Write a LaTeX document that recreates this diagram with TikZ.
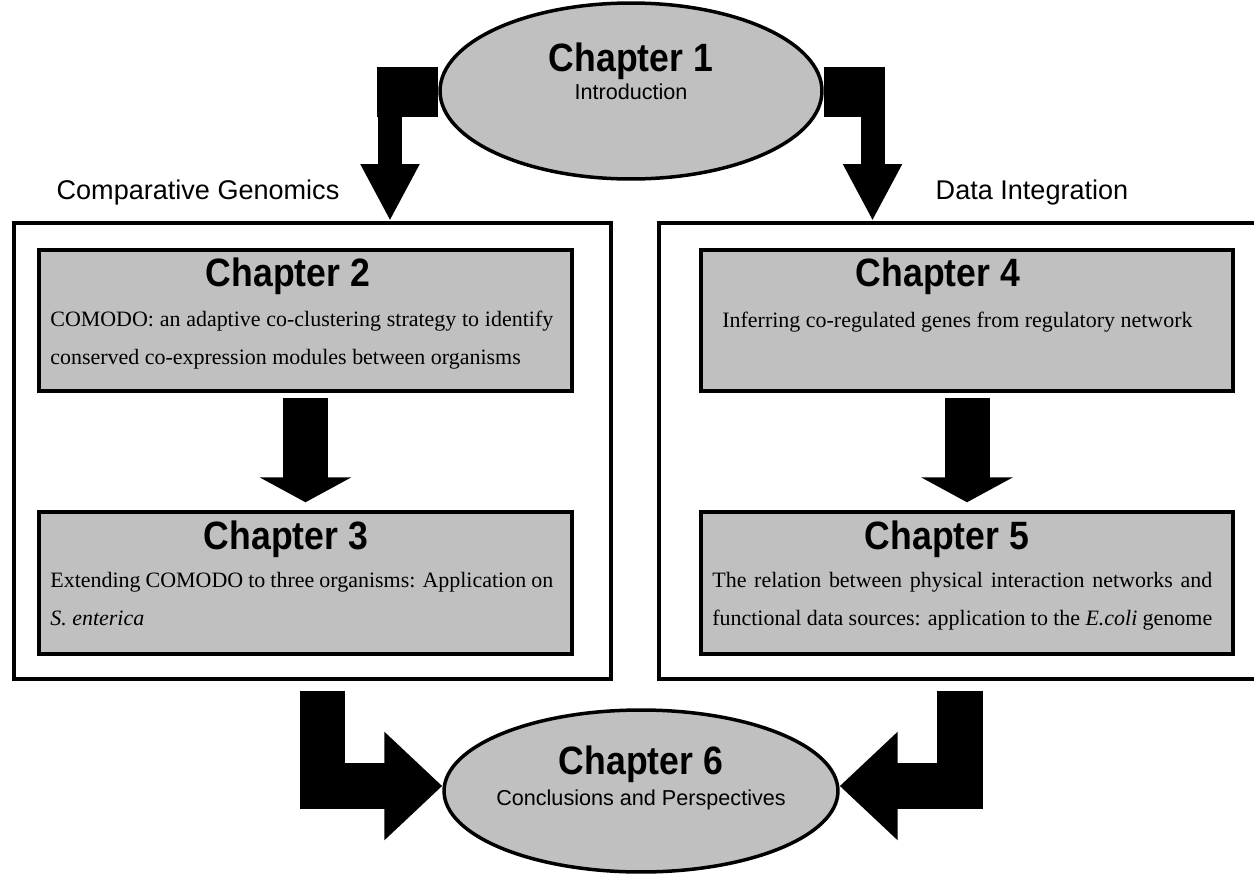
\documentclass[tikz,border=0pt]{standalone}
\usepackage{fontspec}
\setmainfont{Liberation Serif}
\setsansfont{Liberation Sans}
\newfontfamily\narrowsans{Liberation Sans}[FakeStretch=0.9]
\usepackage{tikz}
\usetikzlibrary{arrows.meta,positioning,shapes.geometric,calc}
\definecolor{boxgray}{RGB}{192,192,192}
\newcommand{\chapheadfont}{\narrowsans\bfseries\fontsize{22.5}{26}\selectfont}
\newcommand{\chapsubfont}{\sffamily\fontsize{12.3}{14}\selectfont}
\newcommand{\themefont}{\sffamily\fontsize{15.4}{18}\selectfont}
\newcommand{\chaptxtfont}{\rmfamily\fontsize{12.5}{21.5}\selectfont}

\begin{document}
\begin{tikzpicture}[x=0.02cm,y=-0.02cm,
  themebox/.style={draw,line width=0.08cm,minimum height=9.12cm,inner sep=0pt},
  chapbox/.style={draw,fill=boxgray,line width=0.08cm,minimum width=10.66cm,minimum height=2.83cm,inner sep=0pt},
  oval/.style={ellipse,draw,fill=boxgray,line width=0.07cm,inner sep=0pt},
  chaphead/.style={font=\chapheadfont,inner sep=0pt},
  chapsub/.style={font=\chapsubfont,inner sep=0pt},
  chaptxt/.style={font=\chaptxtfont,align=left,inner sep=0pt,anchor=north west},
  bigarrow/.style={line width=0.48cm,-{Triangle[length=1.14cm,width=1.1cm]}},
  midarrow/.style={line width=0.9cm,-{Triangle[length=0.5cm,width=1.82cm]}},
  lowarrow/.style={line width=0.92cm,-{Triangle[length=1.16cm,width=2.1cm]}}]
  \useasboundingbox (0,0) rectangle (1254,876);
  \clip (0,0) rectangle (1254,876);

  % Chapter 1
  \node[oval,minimum width=7.64cm,minimum height=3.52cm] (c1) at (631,91) {};
  \node[chaphead,anchor=base] (t1) at ([yshift=0.4cm]c1.center) {Chapter 1};
  \node[chapsub,anchor=base] (s1) at ([yshift=-0.16cm]c1.center) {Introduction};

  % the two parts
  \node[themebox,minimum width=11.94cm] (gen) at (312.5,451) {};
  \node[themebox,minimum width=12.02cm] (dat) at (959.5,451) {};
  \node[font=\themefont] (lgen) at (198,193) {Comparative Genomics};
  \node[font=\themefont] (ldat) at (1032,193) {Data Integration};

  % chapter boxes
  \foreach \n/\x/\y/\dx in {2/305.5/320.5/-0.35, 3/305.5/583/-0.39, 4/967/320.5/-0.58, 5/967/583/-0.4} {
    \node[chapbox] (ch\n) at (\x,\y) {};
    \node[chaphead,anchor=north] (h\n) at ([xshift=\dx cm,yshift=-0.2cm]ch\n.north) {Chapter \n};
  }

  % chapter texts
  \node[chaptxt] (b2) at (50,311) {\makebox[10.06cm][s]{COMODO: an adaptive co-clustering strategy to identify}\\
    conserved co-expression modules between organisms};
  \node[chaptxt] (b3) at (50,572) {\makebox[10.06cm][s]{Extending COMODO to three organisms: Application on}\\
    \textit{S. enterica}};
  \node[chaptxt] (b4) at (722,312) {Inferring co-regulated genes from regulatory network};
  \node[chaptxt] (b5) at (712,572) {\makebox[10cm][s]{The relation between physical interaction networks and}\\
    \makebox[10cm][s]{functional data sources: application to the \textit{E.coli} genome}};

  % arrows from Chapter 1
  \draw[bigarrow] (c1.west) -| ([xshift=1.55cm]gen.north);
  \fill ([yshift=0.48cm]c1.west) rectangle ++(-61,50);
  \draw[bigarrow] (c1.east) -| ([xshift=-1.74cm]dat.north);
  \fill ([yshift=0.48cm]c1.east) rectangle ++(61,50);

  % arrows inside the parts
  \draw[midarrow] ([yshift=-0.1cm]ch2.south) -- ([yshift=0.16cm]ch3.north);
  \draw[midarrow] ([yshift=-0.1cm]ch4.south) -- ([yshift=0.16cm]ch5.north);

  % Chapter 6
  \node[oval,minimum width=7.88cm,minimum height=3.24cm] (c6) at (641,791) {};
  \node[chaphead,anchor=base] (t6) at ([yshift=0.34cm]c6.center) {Chapter 6};
  \node[chapsub,anchor=base] (s6) at ([yshift=-0.28cm]c6.center) {Conclusions and Perspectives};
  \draw[lowarrow] ([xshift=0.2cm,yshift=-0.2cm]gen.south) |- ([yshift=0.1cm]c6.west);
  \draw[lowarrow] ([yshift=-0.2cm]dat.south) |- ([yshift=0.1cm]c6.east);
\end{tikzpicture}
\end{document}
